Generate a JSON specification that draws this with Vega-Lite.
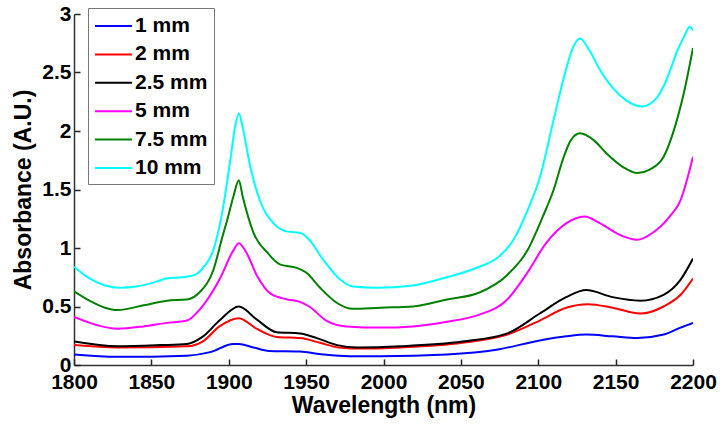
{
  "$schema": "https://vega.github.io/schema/vega-lite/v6.json",
  "width": 619,
  "height": 351,
  "autosize": {"type": "none"},
  "padding": {"left": 74, "top": 14, "right": 27, "bottom": 60},
  "config": {"view": {"stroke": null}, "font": "Liberation Sans"},
  "datasets": {
    "spectra": [
      {"wavelength": 1800, "absorbance": 0.09, "thickness": "1 mm"},
      {"wavelength": 1828, "absorbance": 0.07, "thickness": "1 mm"},
      {"wavelength": 1873, "absorbance": 0.08, "thickness": "1 mm"},
      {"wavelength": 1888, "absorbance": 0.11, "thickness": "1 mm"},
      {"wavelength": 1903, "absorbance": 0.18, "thickness": "1 mm"},
      {"wavelength": 1906.5, "absorbance": 0.18, "thickness": "1 mm"},
      {"wavelength": 1916, "absorbance": 0.15, "thickness": "1 mm"},
      {"wavelength": 1926, "absorbance": 0.12, "thickness": "1 mm"},
      {"wavelength": 1946, "absorbance": 0.115, "thickness": "1 mm"},
      {"wavelength": 1961, "absorbance": 0.09, "thickness": "1 mm"},
      {"wavelength": 1978, "absorbance": 0.075, "thickness": "1 mm"},
      {"wavelength": 1998, "absorbance": 0.075, "thickness": "1 mm"},
      {"wavelength": 2041, "absorbance": 0.09, "thickness": "1 mm"},
      {"wavelength": 2073, "absorbance": 0.13, "thickness": "1 mm"},
      {"wavelength": 2101, "absorbance": 0.21, "thickness": "1 mm"},
      {"wavelength": 2118, "absorbance": 0.245, "thickness": "1 mm"},
      {"wavelength": 2131, "absorbance": 0.26, "thickness": "1 mm"},
      {"wavelength": 2148, "absorbance": 0.245, "thickness": "1 mm"},
      {"wavelength": 2164, "absorbance": 0.23, "thickness": "1 mm"},
      {"wavelength": 2181, "absorbance": 0.26, "thickness": "1 mm"},
      {"wavelength": 2192, "absorbance": 0.32, "thickness": "1 mm"},
      {"wavelength": 2200, "absorbance": 0.36, "thickness": "1 mm"},

      {"wavelength": 1800, "absorbance": 0.17, "thickness": "2 mm"},
      {"wavelength": 1828, "absorbance": 0.15, "thickness": "2 mm"},
      {"wavelength": 1873, "absorbance": 0.16, "thickness": "2 mm"},
      {"wavelength": 1883, "absorbance": 0.2, "thickness": "2 mm"},
      {"wavelength": 1894, "absorbance": 0.33, "thickness": "2 mm"},
      {"wavelength": 1906.5, "absorbance": 0.4, "thickness": "2 mm"},
      {"wavelength": 1918, "absorbance": 0.31, "thickness": "2 mm"},
      {"wavelength": 1931, "absorbance": 0.24, "thickness": "2 mm"},
      {"wavelength": 1946, "absorbance": 0.23, "thickness": "2 mm"},
      {"wavelength": 1959, "absorbance": 0.19, "thickness": "2 mm"},
      {"wavelength": 1971, "absorbance": 0.15, "thickness": "2 mm"},
      {"wavelength": 1987, "absorbance": 0.14, "thickness": "2 mm"},
      {"wavelength": 2011, "absorbance": 0.15, "thickness": "2 mm"},
      {"wavelength": 2051, "absorbance": 0.19, "thickness": "2 mm"},
      {"wavelength": 2080, "absorbance": 0.26, "thickness": "2 mm"},
      {"wavelength": 2101, "absorbance": 0.38, "thickness": "2 mm"},
      {"wavelength": 2118, "absorbance": 0.49, "thickness": "2 mm"},
      {"wavelength": 2132, "absorbance": 0.52, "thickness": "2 mm"},
      {"wavelength": 2148, "absorbance": 0.49, "thickness": "2 mm"},
      {"wavelength": 2166, "absorbance": 0.44, "thickness": "2 mm"},
      {"wavelength": 2181, "absorbance": 0.5, "thickness": "2 mm"},
      {"wavelength": 2192, "absorbance": 0.6, "thickness": "2 mm"},
      {"wavelength": 2200, "absorbance": 0.74, "thickness": "2 mm"},

      {"wavelength": 1800, "absorbance": 0.2, "thickness": "2.5 mm"},
      {"wavelength": 1828, "absorbance": 0.16, "thickness": "2.5 mm"},
      {"wavelength": 1856, "absorbance": 0.17, "thickness": "2.5 mm"},
      {"wavelength": 1873, "absorbance": 0.18, "thickness": "2.5 mm"},
      {"wavelength": 1883, "absorbance": 0.24, "thickness": "2.5 mm"},
      {"wavelength": 1894, "absorbance": 0.38, "thickness": "2.5 mm"},
      {"wavelength": 1906.5, "absorbance": 0.5, "thickness": "2.5 mm"},
      {"wavelength": 1918, "absorbance": 0.39, "thickness": "2.5 mm"},
      {"wavelength": 1931, "absorbance": 0.28, "thickness": "2.5 mm"},
      {"wavelength": 1946, "absorbance": 0.27, "thickness": "2.5 mm"},
      {"wavelength": 1957, "absorbance": 0.23, "thickness": "2.5 mm"},
      {"wavelength": 1970, "absorbance": 0.17, "thickness": "2.5 mm"},
      {"wavelength": 1983, "absorbance": 0.15, "thickness": "2.5 mm"},
      {"wavelength": 2011, "absorbance": 0.16, "thickness": "2.5 mm"},
      {"wavelength": 2051, "absorbance": 0.2, "thickness": "2.5 mm"},
      {"wavelength": 2080, "absorbance": 0.27, "thickness": "2.5 mm"},
      {"wavelength": 2101, "absorbance": 0.44, "thickness": "2.5 mm"},
      {"wavelength": 2118, "absorbance": 0.58, "thickness": "2.5 mm"},
      {"wavelength": 2131, "absorbance": 0.64, "thickness": "2.5 mm"},
      {"wavelength": 2148, "absorbance": 0.58, "thickness": "2.5 mm"},
      {"wavelength": 2166, "absorbance": 0.55, "thickness": "2.5 mm"},
      {"wavelength": 2181, "absorbance": 0.6, "thickness": "2.5 mm"},
      {"wavelength": 2192, "absorbance": 0.73, "thickness": "2.5 mm"},
      {"wavelength": 2200, "absorbance": 0.91, "thickness": "2.5 mm"},

      {"wavelength": 1800, "absorbance": 0.41, "thickness": "5 mm"},
      {"wavelength": 1815, "absorbance": 0.34, "thickness": "5 mm"},
      {"wavelength": 1828, "absorbance": 0.31, "thickness": "5 mm"},
      {"wavelength": 1845, "absorbance": 0.33, "thickness": "5 mm"},
      {"wavelength": 1860, "absorbance": 0.36, "thickness": "5 mm"},
      {"wavelength": 1873, "absorbance": 0.38, "thickness": "5 mm"},
      {"wavelength": 1881, "absorbance": 0.47, "thickness": "5 mm"},
      {"wavelength": 1894, "absorbance": 0.73, "thickness": "5 mm"},
      {"wavelength": 1903, "absorbance": 0.98, "thickness": "5 mm"},
      {"wavelength": 1906.5, "absorbance": 1.04, "thickness": "5 mm"},
      {"wavelength": 1911, "absorbance": 0.97, "thickness": "5 mm"},
      {"wavelength": 1918, "absorbance": 0.77, "thickness": "5 mm"},
      {"wavelength": 1927, "absorbance": 0.61, "thickness": "5 mm"},
      {"wavelength": 1938, "absorbance": 0.56, "thickness": "5 mm"},
      {"wavelength": 1946, "absorbance": 0.54, "thickness": "5 mm"},
      {"wavelength": 1952, "absorbance": 0.5, "thickness": "5 mm"},
      {"wavelength": 1963, "absorbance": 0.38, "thickness": "5 mm"},
      {"wavelength": 1976, "absorbance": 0.33, "thickness": "5 mm"},
      {"wavelength": 1998, "absorbance": 0.32, "thickness": "5 mm"},
      {"wavelength": 2019, "absorbance": 0.33, "thickness": "5 mm"},
      {"wavelength": 2041, "absorbance": 0.37, "thickness": "5 mm"},
      {"wavelength": 2062, "absorbance": 0.43, "thickness": "5 mm"},
      {"wavelength": 2080, "absorbance": 0.56, "thickness": "5 mm"},
      {"wavelength": 2093, "absorbance": 0.79, "thickness": "5 mm"},
      {"wavelength": 2105, "absorbance": 1.04, "thickness": "5 mm"},
      {"wavelength": 2118, "absorbance": 1.21, "thickness": "5 mm"},
      {"wavelength": 2130, "absorbance": 1.27, "thickness": "5 mm"},
      {"wavelength": 2140, "absorbance": 1.21, "thickness": "5 mm"},
      {"wavelength": 2153, "absorbance": 1.11, "thickness": "5 mm"},
      {"wavelength": 2164, "absorbance": 1.07, "thickness": "5 mm"},
      {"wavelength": 2174, "absorbance": 1.13, "thickness": "5 mm"},
      {"wavelength": 2185, "absorbance": 1.27, "thickness": "5 mm"},
      {"wavelength": 2192, "absorbance": 1.41, "thickness": "5 mm"},
      {"wavelength": 2200, "absorbance": 1.78, "thickness": "5 mm"},

      {"wavelength": 1800, "absorbance": 0.63, "thickness": "7.5 mm"},
      {"wavelength": 1810, "absorbance": 0.55, "thickness": "7.5 mm"},
      {"wavelength": 1820, "absorbance": 0.49, "thickness": "7.5 mm"},
      {"wavelength": 1828, "absorbance": 0.47, "thickness": "7.5 mm"},
      {"wavelength": 1845, "absorbance": 0.51, "thickness": "7.5 mm"},
      {"wavelength": 1860, "absorbance": 0.55, "thickness": "7.5 mm"},
      {"wavelength": 1873, "absorbance": 0.56, "thickness": "7.5 mm"},
      {"wavelength": 1881, "absorbance": 0.62, "thickness": "7.5 mm"},
      {"wavelength": 1890, "absorbance": 0.81, "thickness": "7.5 mm"},
      {"wavelength": 1896, "absorbance": 1.1, "thickness": "7.5 mm"},
      {"wavelength": 1899, "absorbance": 1.24, "thickness": "7.5 mm"},
      {"wavelength": 1903, "absorbance": 1.44, "thickness": "7.5 mm"},
      {"wavelength": 1906.5, "absorbance": 1.58, "thickness": "7.5 mm"},
      {"wavelength": 1909, "absorbance": 1.44, "thickness": "7.5 mm"},
      {"wavelength": 1916, "absorbance": 1.13, "thickness": "7.5 mm"},
      {"wavelength": 1925, "absorbance": 0.96, "thickness": "7.5 mm"},
      {"wavelength": 1933, "absorbance": 0.86, "thickness": "7.5 mm"},
      {"wavelength": 1944, "absorbance": 0.83, "thickness": "7.5 mm"},
      {"wavelength": 1950, "absorbance": 0.79, "thickness": "7.5 mm"},
      {"wavelength": 1959, "absorbance": 0.66, "thickness": "7.5 mm"},
      {"wavelength": 1970, "absorbance": 0.53, "thickness": "7.5 mm"},
      {"wavelength": 1980, "absorbance": 0.48, "thickness": "7.5 mm"},
      {"wavelength": 1998, "absorbance": 0.49, "thickness": "7.5 mm"},
      {"wavelength": 2019, "absorbance": 0.5, "thickness": "7.5 mm"},
      {"wavelength": 2041, "absorbance": 0.56, "thickness": "7.5 mm"},
      {"wavelength": 2062, "absorbance": 0.62, "thickness": "7.5 mm"},
      {"wavelength": 2080, "absorbance": 0.77, "thickness": "7.5 mm"},
      {"wavelength": 2093, "absorbance": 0.98, "thickness": "7.5 mm"},
      {"wavelength": 2103, "absorbance": 1.27, "thickness": "7.5 mm"},
      {"wavelength": 2110, "absorbance": 1.5, "thickness": "7.5 mm"},
      {"wavelength": 2116, "absorbance": 1.76, "thickness": "7.5 mm"},
      {"wavelength": 2121, "absorbance": 1.92, "thickness": "7.5 mm"},
      {"wavelength": 2127, "absorbance": 1.98, "thickness": "7.5 mm"},
      {"wavelength": 2136, "absorbance": 1.92, "thickness": "7.5 mm"},
      {"wavelength": 2144, "absorbance": 1.81, "thickness": "7.5 mm"},
      {"wavelength": 2155, "absorbance": 1.69, "thickness": "7.5 mm"},
      {"wavelength": 2164, "absorbance": 1.64, "thickness": "7.5 mm"},
      {"wavelength": 2172, "absorbance": 1.67, "thickness": "7.5 mm"},
      {"wavelength": 2181, "absorbance": 1.78, "thickness": "7.5 mm"},
      {"wavelength": 2187, "absorbance": 1.98, "thickness": "7.5 mm"},
      {"wavelength": 2194, "absorbance": 2.32, "thickness": "7.5 mm"},
      {"wavelength": 2200, "absorbance": 2.71, "thickness": "7.5 mm"},

      {"wavelength": 1800, "absorbance": 0.84, "thickness": "10 mm"},
      {"wavelength": 1810, "absorbance": 0.74, "thickness": "10 mm"},
      {"wavelength": 1820, "absorbance": 0.68, "thickness": "10 mm"},
      {"wavelength": 1830, "absorbance": 0.66, "thickness": "10 mm"},
      {"wavelength": 1840, "absorbance": 0.67, "thickness": "10 mm"},
      {"wavelength": 1850, "absorbance": 0.7, "thickness": "10 mm"},
      {"wavelength": 1860, "absorbance": 0.74, "thickness": "10 mm"},
      {"wavelength": 1870, "absorbance": 0.75, "thickness": "10 mm"},
      {"wavelength": 1878, "absorbance": 0.77, "thickness": "10 mm"},
      {"wavelength": 1884, "absorbance": 0.84, "thickness": "10 mm"},
      {"wavelength": 1890, "absorbance": 0.98, "thickness": "10 mm"},
      {"wavelength": 1896, "absorbance": 1.32, "thickness": "10 mm"},
      {"wavelength": 1901, "absorbance": 1.75, "thickness": "10 mm"},
      {"wavelength": 1904, "absorbance": 2.03, "thickness": "10 mm"},
      {"wavelength": 1906.5, "absorbance": 2.15, "thickness": "10 mm"},
      {"wavelength": 1909, "absorbance": 2.03, "thickness": "10 mm"},
      {"wavelength": 1914, "absorbance": 1.69, "thickness": "10 mm"},
      {"wavelength": 1920, "absorbance": 1.41, "thickness": "10 mm"},
      {"wavelength": 1929, "absorbance": 1.21, "thickness": "10 mm"},
      {"wavelength": 1938, "absorbance": 1.14, "thickness": "10 mm"},
      {"wavelength": 1946, "absorbance": 1.13, "thickness": "10 mm"},
      {"wavelength": 1952, "absorbance": 1.07, "thickness": "10 mm"},
      {"wavelength": 1961, "absorbance": 0.9, "thickness": "10 mm"},
      {"wavelength": 1972, "absorbance": 0.73, "thickness": "10 mm"},
      {"wavelength": 1980, "absorbance": 0.67, "thickness": "10 mm"},
      {"wavelength": 1995, "absorbance": 0.66, "thickness": "10 mm"},
      {"wavelength": 2019, "absorbance": 0.68, "thickness": "10 mm"},
      {"wavelength": 2041, "absorbance": 0.75, "thickness": "10 mm"},
      {"wavelength": 2062, "absorbance": 0.84, "thickness": "10 mm"},
      {"wavelength": 2073, "absorbance": 0.91, "thickness": "10 mm"},
      {"wavelength": 2084, "absorbance": 1.07, "thickness": "10 mm"},
      {"wavelength": 2093, "absorbance": 1.32, "thickness": "10 mm"},
      {"wavelength": 2101, "absorbance": 1.6, "thickness": "10 mm"},
      {"wavelength": 2110, "absorbance": 2.1, "thickness": "10 mm"},
      {"wavelength": 2117, "absorbance": 2.48, "thickness": "10 mm"},
      {"wavelength": 2122, "absorbance": 2.7, "thickness": "10 mm"},
      {"wavelength": 2127, "absorbance": 2.79, "thickness": "10 mm"},
      {"wavelength": 2133, "absorbance": 2.69, "thickness": "10 mm"},
      {"wavelength": 2140, "absorbance": 2.52, "thickness": "10 mm"},
      {"wavelength": 2148, "absorbance": 2.37, "thickness": "10 mm"},
      {"wavelength": 2157, "absorbance": 2.26, "thickness": "10 mm"},
      {"wavelength": 2167, "absorbance": 2.21, "thickness": "10 mm"},
      {"wavelength": 2177, "absorbance": 2.29, "thickness": "10 mm"},
      {"wavelength": 2183, "absorbance": 2.44, "thickness": "10 mm"},
      {"wavelength": 2190, "absorbance": 2.69, "thickness": "10 mm"},
      {"wavelength": 2194, "absorbance": 2.8, "thickness": "10 mm"},
      {"wavelength": 2198, "absorbance": 2.89, "thickness": "10 mm"},
      {"wavelength": 2200, "absorbance": 2.86, "thickness": "10 mm"}
    ]
  },
  "data": {"name": "spectra"},
  "mark": {"type": "line", "strokeWidth": 2, "interpolate": "monotone", "clip": true},
  "encoding": {
    "x": {
      "field": "wavelength",
      "type": "quantitative",
      "scale": {"domain": [1800, 2200], "nice": false, "zero": false},
      "axis": {
        "title": "Wavelength (nm)",
        "format": "d",
        "values": [1800, 1850, 1900, 1950, 2000, 2050, 2100, 2150, 2200],
        "grid": false,
        "ticks": true,
        "tickSize": -6,
        "tickColor": "#222",
        "tickWidth": 1.5,
        "domainColor": "#333",
        "domainWidth": 1.5,
        "labelPadding": 12,
        "labelFontSize": 21,
        "labelFontWeight": "bold",
        "labelColor": "#000",
        "labelFlush": false,
        "titleFontSize": 23,
        "titleFontWeight": "bold",
        "titleColor": "#000",
        "titlePadding": 2
      }
    },
    "y": {
      "field": "absorbance",
      "type": "quantitative",
      "scale": {"domain": [0, 3], "nice": false},
      "axis": {
        "title": "Absorbance (A.U.)",
        "format": "~g",
        "values": [0, 0.5, 1, 1.5, 2, 2.5, 3],
        "grid": false,
        "ticks": true,
        "tickSize": -6,
        "tickColor": "#222",
        "tickWidth": 1.5,
        "domainColor": "#333",
        "domainWidth": 1.5,
        "labelPadding": 9,
        "labelFontSize": 21,
        "labelFontWeight": "bold",
        "labelColor": "#000",
        "labelFlush": false,
        "titleFontSize": 23,
        "titleFontWeight": "bold",
        "titleColor": "#000",
        "titlePadding": 6
      }
    },
    "color": {
      "field": "thickness",
      "type": "nominal",
      "scale": {
        "domain": ["1 mm", "2 mm", "2.5 mm", "5 mm", "7.5 mm", "10 mm"],
        "range": ["#0000FF", "#FF0000", "#000000", "#FF00FF", "#008000", "#00FFFF"]
      },
      "legend": {
        "title": null,
        "orient": "none",
        "legendX": 14,
        "legendY": -6,
        "strokeColor": "#777",
        "fillColor": "#FFFFFF",
        "padding": 6,
        "symbolType": "M-1,0H2.36",
        "symbolSize": 484,
        "symbolStrokeWidth": 2,
        "labelFontSize": 21,
        "labelFontWeight": "bold",
        "labelColor": "#000",
        "labelOffset": 17,
        "rowPadding": 6.4
      }
    }
  }
}
